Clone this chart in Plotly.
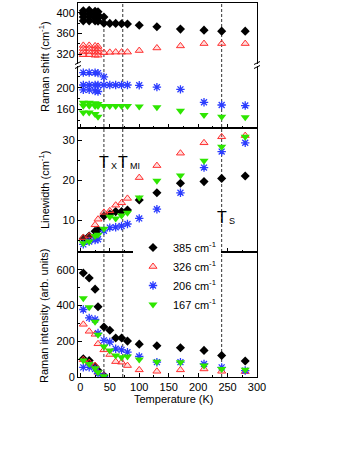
import plotly.graph_objects as go

# ---------------- data ----------------
T_all = [5, 15, 25, 30, 40, 50, 60, 70, 80, 100, 130, 170, 210, 240, 280]
T_low = [5, 15, 25, 30]
T_low40 = [5, 15, 25, 30, 40]

# Raman shift (cm-1), main modes
shift_385 = [384.5, 384.5, 384.5, 384, 380, 379.5, 379.5, 379, 378.5, 376, 373, 368.5, 366.5, 364.5, 364.5]
shift_326 = [325, 325, 324, 324, 323, 323.5, 324, 324, 324, 327, 332, 336, 340.5, 340.5, 340.5]
shift_206 = [205, 205, 205, 205, 205, 205, 205, 205, 205, 204.5, 201, 197, 173, 168, 167]
shift_167 = [166.5, 166.5, 166, 166, 166, 166, 166, 166, 166, 165, 163.7, 157.5, 149.4, 146.3, 145.2]

# Raman shift, split modes at low temperature
shift_385_a = [404, 405, 403, 402]
shift_385_b = [398, 398, 397, 396]
shift_385_c = [392, 392, 391, 390, 392]
shift_326_a = [337, 337, 336, 335]
shift_326_b = [331, 331, 330, 330]
shift_326_c = [319, 319, 318, 318]
shift_206_a = [228, 228, 228, 227, 220]
shift_206_b = [196, 196, 194, 193]
shift_167_a = [172, 172, 171, 170]
shift_167_b = [154, 154, 151.3, 146.3]

# Linewidth (cm-1)
lw_385 = [5.4, 6.0, 7.2, 7.5, 11.0, 11.5, 12.1, 12.1, 12.5, 15.0, 16.8, 19.2, 19.6, 20.4, 21.0]
lw_326 = [5.6, 6.0, 8.8, 10.2, 11.9, 12.3, 13.7, 14.3, 15.4, 20.6, 23.6, 26.7, 29.3, 30.8, 31.1]
lw_206 = [3.9, 4.6, 5.0, 5.2, 7.3, 8.1, 8.2, 8.5, 9.0, 10.4, 12.7, 16.8, 23.1, 27.1, 29.3]
lw_167 = [4.2, 4.6, 6.0, 6.3, 7.8, 10.8, 10.4, 11.1, 11.8, 15.6, 19.8, 21.1, 24.8, 28.3, 30.8]

# Raman intensity (arb. units)
int_385 = [582, 554, 492, 393, 280, 262, 218, 218, 201, 184, 175, 164, 149, 120, 90]
int_326 = [295, 256, 239, 186, 152, 126, 86, 83, 64, 40, 32, 40, 45, 32, 30]
int_206 = [378, 331, 322, 246, 205, 196, 158, 152, 139, 115, 83, 83, 73, 54, 36]
int_167 = [441, 390, 309, 237, 171, 149, 120, 111, 115, 98, 86, 83, 64, 45, 40]
int_385_b = [102, 92, 58, 36, 7]
int_326_b = [97, 81, 64, 26, 7]
int_206_b = [54, 54, 45, 19, 2]
int_167_b = [92, 73, 49, 26, 4]

legend_names = ["385 cm<sup>-1</sup>", "326 cm<sup>-1</sup>", "206 cm<sup>-1</sup>", "167 cm<sup>-1</sup>"]
T_lines = [40, 72, 240]

# ---------------- styles ----------------
FONT = "Liberation Sans, Arial, sans-serif"
st = {
    "385": dict(symbol="diamond", size=7, color="black"),
    "326": dict(symbol="triangle-up", size=7, color="rgba(255,120,120,0.25)",
                line=dict(color="#ff3030", width=1)),
    "206": dict(symbol="asterisk-open", size=7, color="#2b3cff",
                line=dict(color="#2b3cff", width=1.3)),
    "167": dict(symbol="triangle-down", size=8, color="#2ee600"),
}

fig = go.Figure()

def add(x, y, key, xa, ya, name=None, show=False):
    fig.add_trace(go.Scatter(x=x, y=y, mode="markers", marker=st[key],
                             xaxis=xa, yaxis=ya, name=name or key,
                             legendgroup=key, showlegend=show))

# bottom panel: intensity (legend entries here)
keys = ["385", "326", "206", "167"]
ints = [int_385, int_326, int_206, int_167]
ints_b = [int_385_b, int_326_b, int_206_b, int_167_b]
for k, v, vb, nm in zip(keys, ints, ints_b, legend_names):
    add(T_all, v, k, "x", "y", nm, True)
    add(T_low40, vb, k, "x", "y")

# middle panel: linewidth
for k, v in zip(keys, [lw_385, lw_326, lw_206, lw_167]):
    add(T_all, v, k, "x2", "y2")

# top panel: Raman shift (upper and lower segments)
add(T_all, shift_385, "385", "x4", "y4")
add(T_low, shift_385_a, "385", "x4", "y4")
add(T_low, shift_385_b, "385", "x4", "y4")
add(T_low40, shift_385_c, "385", "x4", "y4")
add(T_all, shift_326, "326", "x4", "y4")
add(T_low, shift_326_a, "326", "x4", "y4")
add(T_low, shift_326_b, "326", "x4", "y4")
add(T_low, shift_326_c, "326", "x4", "y4")
add(T_all, shift_206, "206", "x3", "y3")
add(T_low40, shift_206_a, "206", "x3", "y3")
add(T_low, shift_206_b, "206", "x3", "y3")
add(T_all, shift_167, "167", "x3", "y3")
add(T_low, shift_167_a, "167", "x3", "y3")
add(T_low, shift_167_b, "167", "x3", "y3")

# ---------------- layout ----------------
W, H = 354, 458
L, R, TOP, B = 78, 97, 3, 81
PH = H - TOP - B          # plot height in px
PW = W - L - R


def py(p):  # pixel y -> paper y
    return (H - B - p) / PH


def px(p):  # pixel x -> paper x
    return (p - L) / PW


tickfont = dict(family=FONT, size=11, color="black")
xbase = dict(range=[-4, 300], tickmode="array", tickvals=[0, 50, 100, 150, 200, 250, 300],
             ticks="inside", ticklen=4, tickcolor="black", showgrid=False, zeroline=False,
             showline=True, linecolor="black", linewidth=1, tickfont=tickfont,
             minor=dict(tickmode="linear", tick0=0, dtick=25, ticks="inside", ticklen=2, tickcolor="black"))
ybase = dict(ticks="inside", ticklen=4, tickcolor="black", showgrid=False, zeroline=False,
             showline=True, linecolor="black", linewidth=1, mirror=True, tickfont=tickfont)

d_bot = [0, py(252)]
d_mid = [py(252), py(128)]
d_topl = [py(128), py(66)]
d_topu = [py(64), 1]

fig.update_layout(
    width=W, height=H, margin=dict(l=L, r=R, t=TOP, b=B, pad=0),
    paper_bgcolor="white", plot_bgcolor="white",
    font=dict(family=FONT, size=11, color="black"),
    xaxis=dict(xbase, anchor="y", domain=[0, 1], showticklabels=True, mirror=True),
    xaxis2=dict(xbase, anchor="y2", domain=[0, 1], showticklabels=False, mirror=True, matches="x"),
    xaxis3=dict(xbase, anchor="y3", domain=[0, 1], showticklabels=False, mirror=False, matches="x"),
    xaxis4=dict(xbase, anchor="y4", domain=[0, 1], showticklabels=False, side="top",
                ticks="", minor=dict(ticks=""), mirror=False, matches="x"),
    yaxis=dict(ybase, anchor="x", domain=d_bot, range=[0, 700], tickvals=[0, 200, 400, 600],
               minor=dict(tickmode="linear", tick0=0, dtick=100, ticks="inside", ticklen=2, tickcolor="black")),
    yaxis2=dict(ybase, anchor="x2", domain=d_mid, range=[2, 33], tickvals=[10, 20, 30],
                minor=dict(tickmode="linear", tick0=0, dtick=5, ticks="inside", ticklen=2, tickcolor="black")),
    yaxis3=dict(ybase, anchor="x3", domain=d_topl, range=[125.4, 240.2], tickvals=[160, 200],
                minor=dict(tickmode="linear", tick0=0, dtick=20, ticks="inside", ticklen=2, tickcolor="black")),
    yaxis4=dict(ybase, anchor="x4", domain=d_topu, range=[301, 419], tickvals=[320, 360, 400],
                minor=dict(tickmode="linear", tick0=0, dtick=20, ticks="inside", ticklen=2, tickcolor="black")),
    legend=dict(x=px(133), y=py(233), xanchor="left", yanchor="top", bgcolor="white",
                borderwidth=0, font=dict(family=FONT, size=11, color="black"),
                itemsizing="trace", tracegroupgap=0),
    showlegend=True,
)

shapes = []
# dashed temperature lines
for i, t in enumerate(T_lines):
    y1 = py(28) if i == 0 else 1
    shapes.append(dict(type="line", xref="x", yref="paper", x0=t, x1=t, y0=0, y1=y1,
                       line=dict(color="#333333", width=1, dash="3px,2px"), layer="below"))
# axis break marks
for xp in (L, L + PW):
    for yy in (63, 67):
        shapes.append(dict(type="line", xref="paper", yref="paper",
                           x0=px(xp - 3), x1=px(xp + 3), y0=py(yy + 1.5), y1=py(yy - 1.5),
                           line=dict(color="black", width=1)))
fig.update_layout(shapes=shapes)

ann = []
# y titles
for text, yc in [("Raman shift (cm<sup>-1</sup>)", 67),
                 ("Linewidth (cm<sup>-1</sup>)", 190),
                 ("Raman intensity (arb. units)", 316)]:
    ann.append(dict(text=text, xref="paper", yref="paper", x=px(44), y=py(yc),
                    textangle=-90, showarrow=False, xanchor="center", yanchor="middle",
                    font=dict(family=FONT, size=11, color="black")))
ann.append(dict(text="Temperature (K)", xref="paper", yref="paper", x=px(173), y=py(399),
                showarrow=False, xanchor="center", yanchor="middle",
                font=dict(family=FONT, size=11, color="black")))
# transition labels
for t, sub, yc in [(T_lines[0], "X", 162), (T_lines[1], "MI", 162), (T_lines[2], "S", 217)]:
    ann.append(dict(text="T", xref="x", yref="paper", x=t, y=py(yc), showarrow=False,
                    xanchor="center", yanchor="middle", font=dict(family=FONT, size=16, color="black")))
    ann.append(dict(text=sub, xref="x", yref="paper", x=t, y=py(yc + 4), xshift=5, showarrow=False,
                    xanchor="left", yanchor="middle", font=dict(family=FONT, size=9, color="black")))
fig.update_layout(annotations=ann)

fig.write_html("out.html", config={"displayModeBar": False},
               post_script="document.body.style.margin='0';")
